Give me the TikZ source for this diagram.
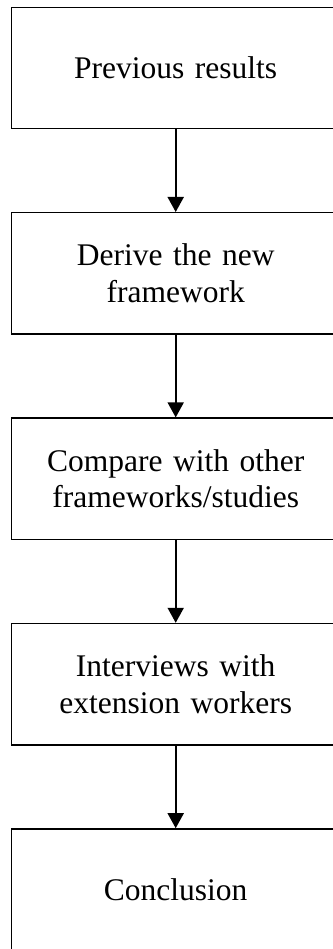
\documentclass[tikz,border=0pt]{standalone}
\usepackage{fontspec}
\setmainfont{Liberation Serif}
\usetikzlibrary{arrows.meta,positioning}
\definecolor{LineClr}{rgb}{0,0,0}

\begin{document}
\begin{tikzpicture}[x=1pt,y=1pt,
  StepBox/.style={draw=LineClr,line width=1.4pt,minimum width=328pt,minimum height=121.4pt,
    text width=310pt,align=center,inner sep=0pt,font=\fontsize{31.5}{36.7}\selectfont},
  FlowArrow/.style={draw=LineClr,line width=1.8pt,-{Triangle[width=16pt,length=15pt]}},
  node distance=82.6pt]
\useasboundingbox (0,0) rectangle (332,-949);

\node[StepBox] (prev) at (175.7,-68) {Previous results};
\node[StepBox,below=of prev] (derive) {Derive the new\\framework};
\node[StepBox,below=of derive] (compare) {Compare with other\\frameworks/studies};
\node[StepBox,below=of compare] (interview) {Interviews with\\extension workers};
\node[StepBox,below=of interview] (concl) {Conclusion};

\draw[FlowArrow] (prev) -- (derive);
\draw[FlowArrow] (derive) -- (compare);
\draw[FlowArrow] (compare) -- (interview);
\draw[FlowArrow] (interview) -- (concl);

\end{tikzpicture}
\end{document}
